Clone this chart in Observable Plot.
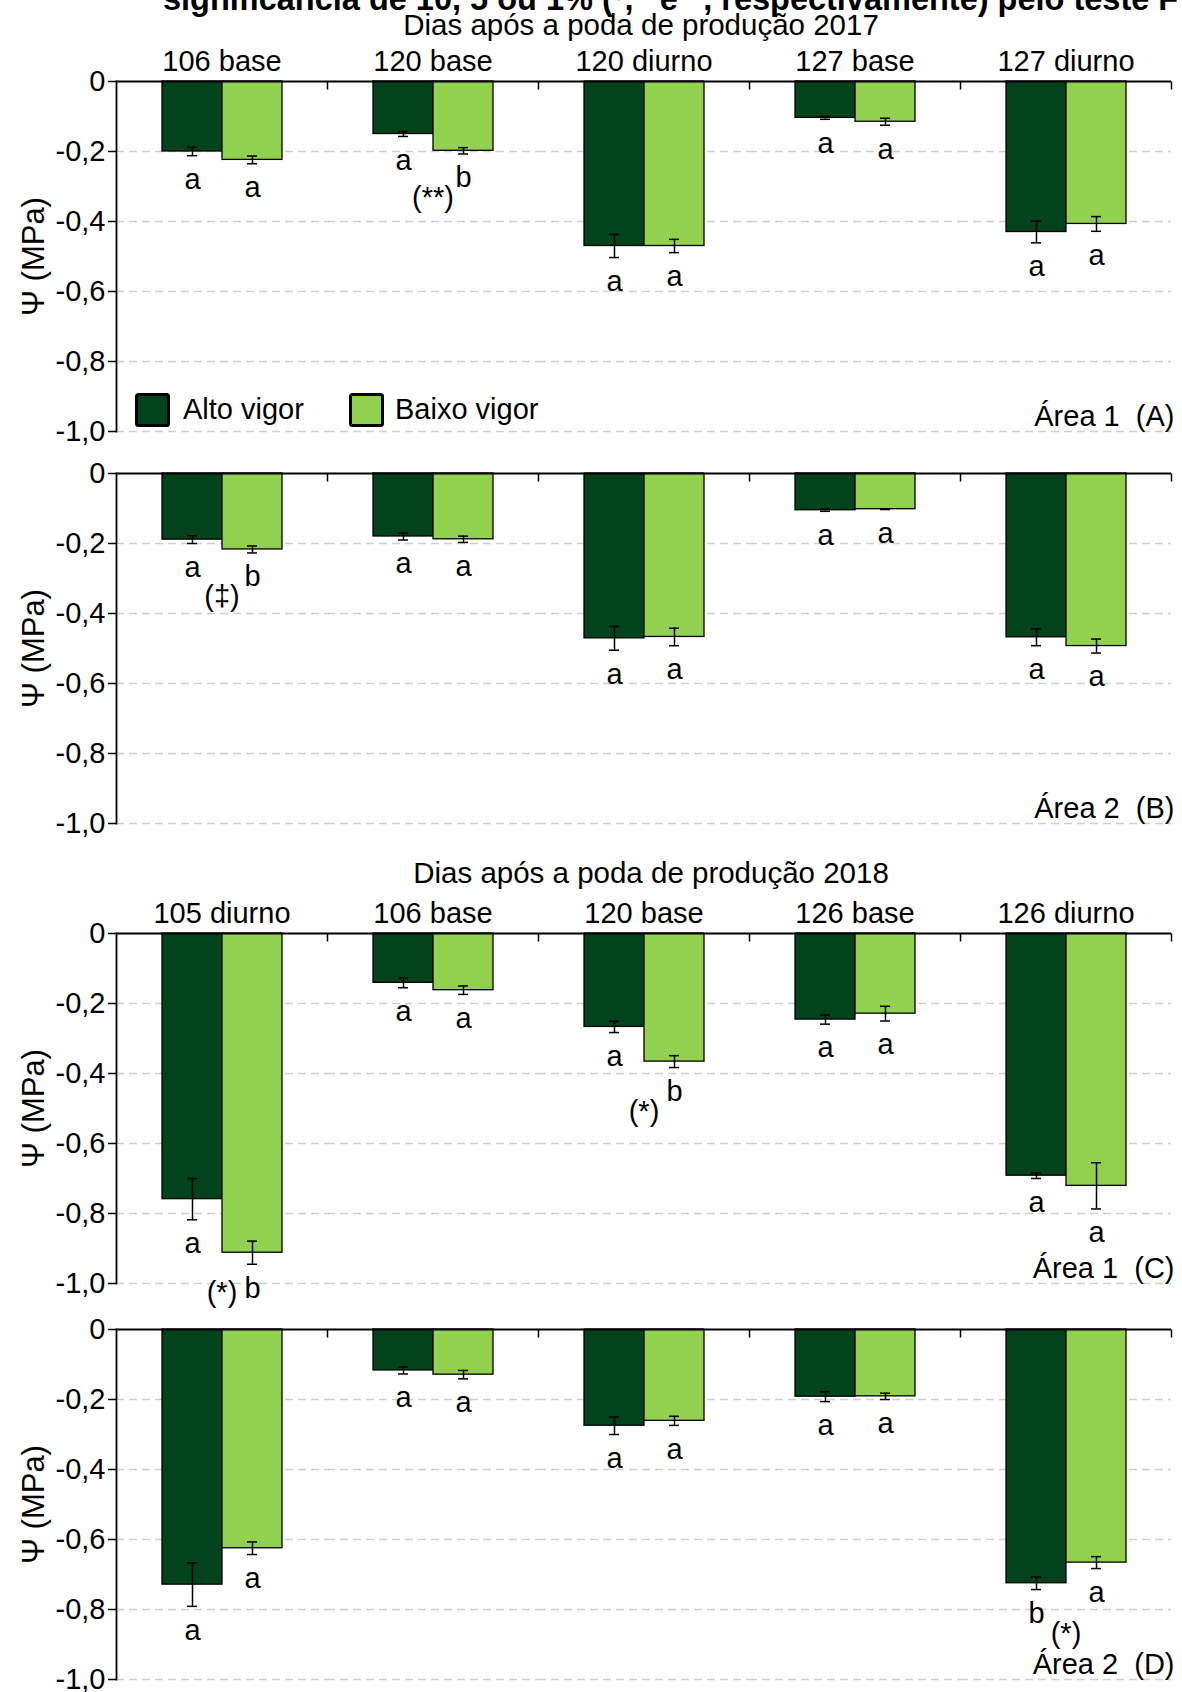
<!DOCTYPE html>
<html lang="pt-BR">
<head>
<meta charset="utf-8">
<script src="https://cdn.jsdelivr.net/npm/d3@7"></script>
<script src="https://cdn.jsdelivr.net/npm/@observablehq/plot@0.6"></script>
<style>
  html, body { margin: 0; padding: 0; background: #fff; }
  #page { position: relative; width: 1182px; height: 1692px; overflow: hidden; background: #fff; }
  #page > svg { position: absolute; left: 0; }
  #overlay { pointer-events: none; }
</style>
</head>
<body>
<div id="page"></div>
<script>
// ---- Categories -------------------------------------------------------
const vigor = ["Alto vigor", "Baixo vigor"];
const groups2017 = ["106 base", "120 base", "120 diurno", "127 base", "127 diurno"];
const groups2018 = ["105 diurno", "106 base", "120 base", "126 base", "126 diurno"];
const yTicks = [0, -0.2, -0.4, -0.6, -0.8, -1.0];

// ---- Área 1 (A), 2017 -------------------------------------------------
const altoA = [-0.200, -0.150, -0.470, -0.104, -0.430];
const altoErrA = [0.012, 0.007, 0.033, 0.004, 0.031];
const baixoA = [-0.224, -0.198, -0.470, -0.115, -0.407];
const baixoErrA = [0.011, 0.009, 0.019, 0.010, 0.021];
const altoLetA = ["a", "a", "a", "a", "a"];
const baixoLetA = ["a", "b", "a", "a", "a"];
const sigA = ["", "(**)", "", "", ""];

// ---- Área 2 (B), 2017 -------------------------------------------------
const altoB = [-0.189, -0.180, -0.471, -0.105, -0.468];
const altoErrB = [0.011, 0.010, 0.034, 0.003, 0.024];
const baixoB = [-0.217, -0.188, -0.467, -0.102, -0.493];
const baixoErrB = [0.010, 0.009, 0.025, 0.001, 0.020];
const altoLetB = ["a", "a", "a", "a", "a"];
const baixoLetB = ["b", "a", "a", "a", "a"];
const sigB = ["(\u2021)", "", "", "", ""];

// ---- Área 1 (C), 2018 -------------------------------------------------
const altoC = [-0.759, -0.141, -0.267, -0.246, -0.692];
const altoErrC = [0.059, 0.014, 0.016, 0.013, 0.008];
const baixoC = [-0.912, -0.162, -0.366, -0.229, -0.721];
const baixoErrC = [0.033, 0.012, 0.017, 0.021, 0.066];
const altoLetC = ["a", "a", "a", "a", "a"];
const baixoLetC = ["b", "a", "b", "a", "a"];
const sigC = ["(*)", "", "(*)", "", ""];

// ---- Área 2 (D), 2018 -------------------------------------------------
const altoD = [-0.729, -0.117, -0.275, -0.192, -0.725];
const altoErrD = [0.062, 0.010, 0.025, 0.014, 0.018];
const baixoD = [-0.625, -0.129, -0.261, -0.191, -0.666];
const baixoErrD = [0.018, 0.012, 0.013, 0.009, 0.017];
const altoLetD = ["a", "a", "a", "a", "b"];
const baixoLetD = ["a", "a", "a", "a", "a"];
const sigD = ["", "", "", "", "(*)"];

// ---- Texts ------------------------------------------------------------
const yLabel = "\u03A8 (MPa)";
const season2017 = "Dias após a poda de produção 2017";
const season2018 = "Dias após a poda de produção 2018";
const areaA = "Área 1\u00A0 (A)";
const areaB = "Área 2\u00A0 (B)";
const areaC = "Área 1\u00A0 (C)";
const areaD = "Área 2\u00A0 (D)";

// ---- Style ------------------------------------------------------------
const colors = ["#02431d", "#92d050"];
const font = '"Liberation Sans", Arial, Helvetica, sans-serif';
const fmt = d => d === 0 ? "0" : d.toFixed(1).replace(".", ",");
const tickDown = {draw(context) { context.moveTo(0, 0); context.lineTo(0, 8); }};

function panel({groups, alto, altoErr, baixo, baixoErr, altoLet, baixoLet, sig, area, top, marginTop, labels}) {
  const rows = groups.flatMap((g, i) => [
    {group: g, vigor: vigor[0], value: alto[i], err: altoErr[i], letter: altoLet[i]},
    {group: g, vigor: vigor[1], value: baixo[i], err: baixoErr[i], letter: baixoLet[i]}
  ]);
  // significance flags sit under the bar marked "b", kept inside the panel
  const sigRows = groups.map((g, i) => {
    if (!sig[i]) return null;
    const b = rows.find(r => r.group === g && r.letter === "b");
    return {group: g, text: sig[i], y: Math.max(b.value - b.err, -0.9)};
  }).filter(Boolean);

  const svg = Plot.plot({
    width: 1182,
    height: marginTop + 350 + 10,
    marginTop,
    marginBottom: 10,
    marginLeft: 114,
    marginRight: 10,
    style: {fontFamily: font, fontSize: "29px", background: "transparent", overflow: "visible", color: "#000"},
    fx: {domain: groups, padding: 0, axis: labels ? "top" : null, label: null, tickSize: 0, tickPadding: 11},
    x: {domain: vigor, paddingInner: 0, paddingOuter: 0.75, axis: null},
    y: {domain: [-1, 0], axis: null},
    color: {domain: vigor, range: colors},
    marks: [
      Plot.ruleY(yTicks.slice(1), {stroke: "#cfcfcf", strokeWidth: 1.5, strokeDasharray: "8,5"}),
      Plot.barY(rows, {fx: "group", x: "vigor", y: "value", fill: "vigor", stroke: "#000", strokeWidth: 1.3}),
      Plot.ruleX(rows, {fx: "group", x: "vigor", y1: d => d.value - d.err, y2: d => d.value + d.err, strokeWidth: 1.5}),
      Plot.tickY(rows, {fx: "group", x: "vigor", y: d => d.value - d.err, insetLeft: 25, insetRight: 25, strokeWidth: 1.5}),
      Plot.tickY(rows, {fx: "group", x: "vigor", y: d => d.value + d.err, insetLeft: 25, insetRight: 25, strokeWidth: 1.5}),
      Plot.ruleY([0], {stroke: "#000", strokeWidth: 1.8}),
      Plot.frame({anchor: "left", facetAnchor: "left", stroke: "#000", strokeWidth: 1.8}),
      Plot.dot([null], {x: null, y: null, frameAnchor: "top-right", symbol: tickDown, fill: "none", stroke: "#000", strokeWidth: 1.5}),
      Plot.axisY({ticks: yTicks, tickFormat: fmt, tickSize: 8, tickPadding: 3, strokeWidth: 1.5, label: null}),
      Plot.text(rows, {fx: "group", x: "vigor", y: d => d.value - d.err, text: "letter", dy: 24, lineAnchor: "middle"}),
      Plot.text(sigRows, {fx: "group", y: "y", text: "text", dy: 44, lineAnchor: "middle"}),
      Plot.text([yLabel], {fx: [groups[0]], frameAnchor: "left", rotate: -90, dx: -82, textAnchor: "middle", lineAnchor: "middle", fontSize: 31}),
      Plot.text([area], {fx: [groups[groups.length - 1]], frameAnchor: "bottom-right", textAnchor: "end", lineAnchor: "middle", dx: 3, dy: -15})
    ]
  });
  svg.style.top = top + "px";
  return svg;
}

const page = document.getElementById("page");
page.append(
  panel({groups: groups2017, alto: altoA, altoErr: altoErrA, baixo: baixoA, baixoErr: baixoErrA,
         altoLet: altoLetA, baixoLet: baixoLetA, sig: sigA, area: areaA, top: 0, marginTop: 81, labels: true}),
  panel({groups: groups2017, alto: altoB, altoErr: altoErrB, baixo: baixoB, baixoErr: baixoErrB,
         altoLet: altoLetB, baixoLet: baixoLetB, sig: sigB, area: areaB, top: 463, marginTop: 10, labels: false}),
  panel({groups: groups2018, alto: altoC, altoErr: altoErrC, baixo: baixoC, baixoErr: baixoErrC,
         altoLet: altoLetC, baixoLet: baixoLetC, sig: sigC, area: areaC, top: 850, marginTop: 83, labels: true}),
  panel({groups: groups2018, alto: altoD, altoErr: altoErrD, baixo: baixoD, baixoErr: baixoErrD,
         altoLet: altoLetD, baixoLet: baixoLetD, sig: sigD, area: areaD, top: 1319, marginTop: 10, labels: false})
);

// ---- Headings, significance note and legend ---------------------------
const ns = "http://www.w3.org/2000/svg";
const overlay = document.createElementNS(ns, "svg");
overlay.setAttribute("id", "overlay");
overlay.setAttribute("width", 1182);
overlay.setAttribute("height", 1692);
overlay.setAttribute("font-family", font);
overlay.style.top = "0px";
overlay.innerHTML = `
  <text x="163" y="10" font-size="32.5" font-weight="bold">significância de 10, 5 ou 1% (<tspan baseline-shift="super" font-size="21">\u2021</tspan>, <tspan baseline-shift="super" font-size="21">*</tspan> e <tspan baseline-shift="super" font-size="21">**</tspan>, respectivamente) pelo teste F</text>
  <text x="641" y="35" font-size="29.5" text-anchor="middle">${season2017}</text>
  <text x="651" y="883" font-size="29.5" text-anchor="middle">${season2018}</text>
  <rect x="136.5" y="394.5" width="32" height="31" rx="2" fill="${colors[0]}" stroke="#000" stroke-width="3"/>
  <text x="183" y="419" font-size="29">${vigor[0]}</text>
  <rect x="350.5" y="394.5" width="32" height="31" rx="2" fill="${colors[1]}" stroke="#000" stroke-width="3"/>
  <text x="395" y="419" font-size="29">${vigor[1]}</text>
`;
page.append(overlay);
</script>
</body>
</html>
